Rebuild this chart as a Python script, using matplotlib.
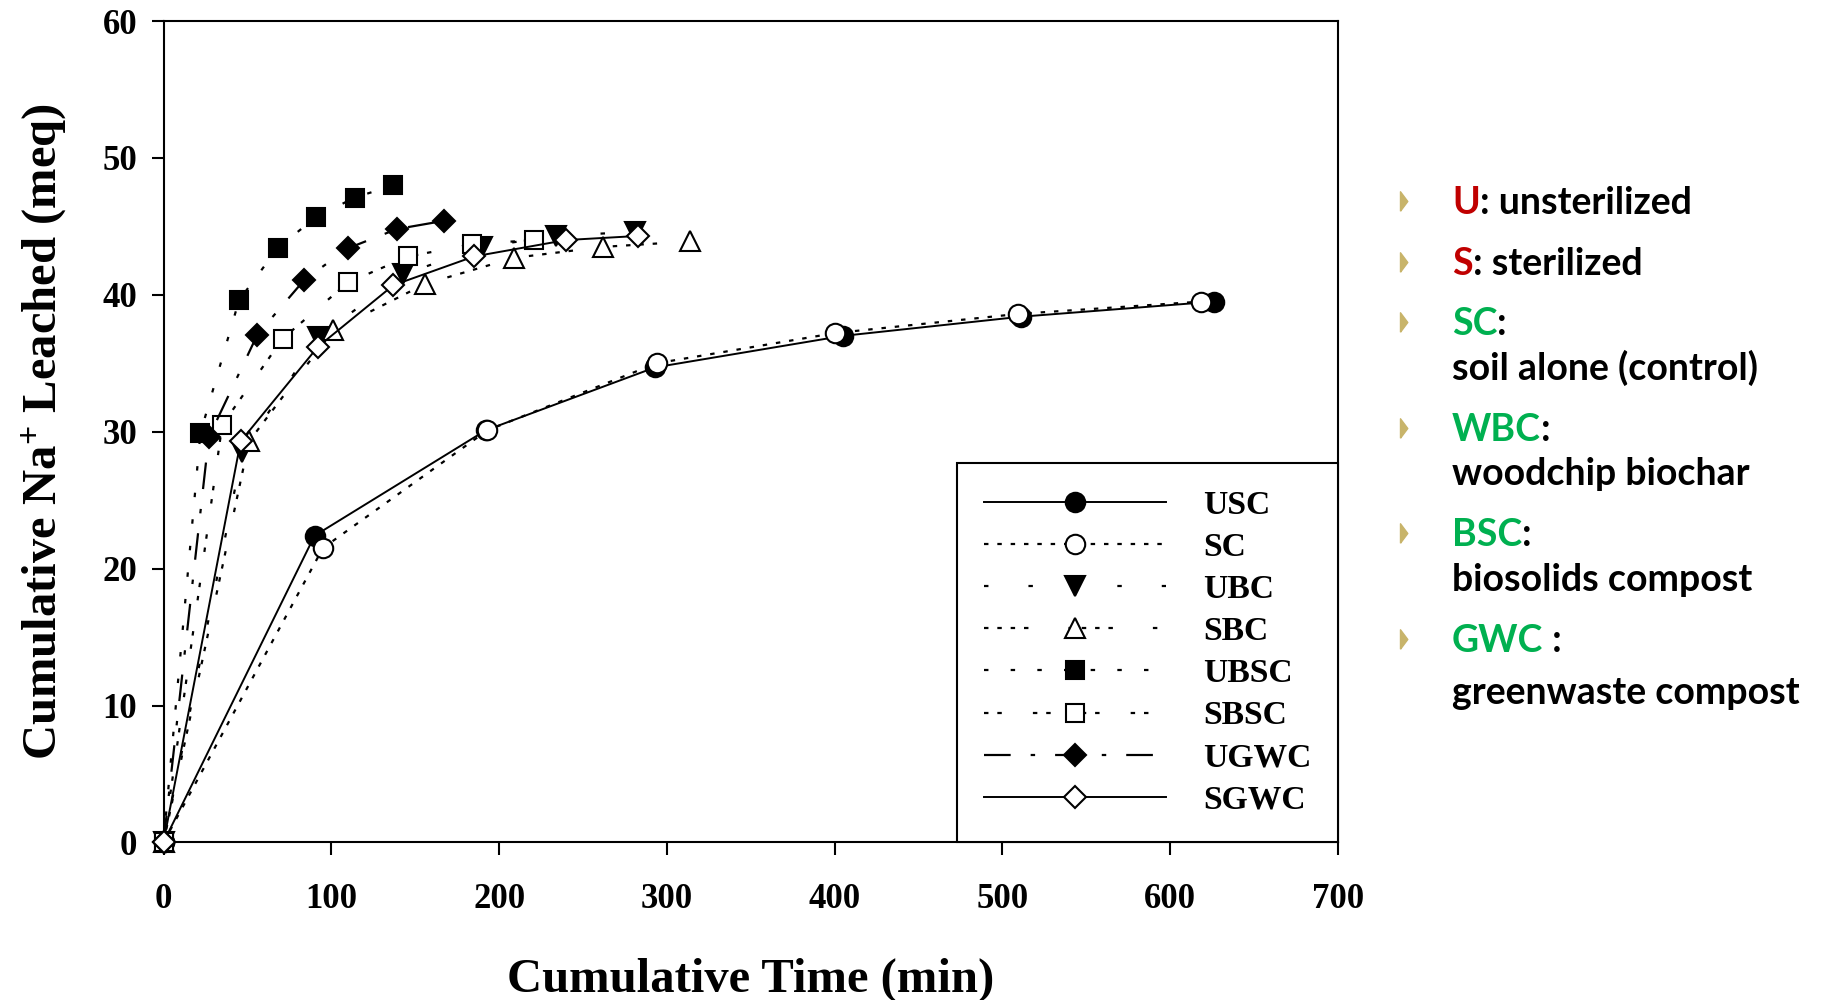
import matplotlib
matplotlib.use("Agg")
import matplotlib.pyplot as plt
from matplotlib.lines import Line2D

# Cumulative time (min) and cumulative Na+ leached (meq) for each column treatment
usc_t = [0, 90, 192, 293, 405, 511, 626]
usc_v = [0, 22.4, 30.1, 34.7, 37.0, 38.4, 39.5]
sc_t = [0, 95, 193, 294, 400, 509, 618]
sc_v = [0, 21.5, 30.1, 35.0, 37.2, 38.6, 39.5]
ubc_t = [0, 47, 92, 143, 190, 234, 281]
ubc_v = [0, 28.5, 36.9, 41.5, 43.5, 44.3, 44.6]
sbc_t = [0, 51, 101, 156, 209, 262, 314]
sbc_v = [0, 29.3, 37.4, 40.8, 42.7, 43.5, 43.9]
ubsc_t = [0, 22, 45, 68, 91, 114, 137]
ubsc_v = [0, 29.9, 39.6, 43.4, 45.7, 47.1, 48.0]
sbsc_t = [0, 35, 71, 110, 146, 184, 221]
sbsc_v = [0, 30.5, 36.8, 40.9, 42.8, 43.7, 44.0]
ugwc_t = [0, 27, 56, 84, 110, 139, 167]
ugwc_v = [0, 29.6, 37.1, 41.1, 43.4, 44.8, 45.4]
sgwc_t = [0, 46, 92, 137, 185, 240, 283]
sgwc_v = [0, 29.3, 36.2, 40.7, 42.8, 44.0, 44.3]

x_ticks = [0, 100, 200, 300, 400, 500, 600, 700]
y_ticks = [0, 10, 20, 30, 40, 50, 60]

series = [
    ("USC", usc_t, usc_v, "o", "black", "-"),
    ("SC", sc_t, sc_v, "o", "white", (0, (2, 4))),
    ("UBC", ubc_t, ubc_v, "v", "black", (0, (2, 18))),
    ("SBC", sbc_t, sbc_v, "^", "white", (0, (2, 4, 2, 4, 2, 4, 2, 18))),
    ("UBSC", ubsc_t, ubsc_v, "s", "black", (0, (2, 10))),
    ("SBSC", sbsc_t, sbsc_v, "s", "white", (0, (2, 4, 2, 14))),
    ("UGWC", ugwc_t, ugwc_v, "D", "black", (0, (12, 9, 2, 9))),
    ("SGWC", sgwc_t, sgwc_v, "D", "white", "-"),
]
marker_size = {"o": 14, "v": 14, "^": 14, "s": 13, "D": 11}

# right-hand glossary
RED = "#C00000"
GREEN = "#00B050"
glossary = [
    ("U", ": unsterilized", RED, None),
    ("S", ": sterilized", RED, None),
    ("SC", ":", GREEN, "soil alone (control)"),
    ("WBC", ":", GREEN, "woodchip biochar"),
    ("BSC", ":", GREEN, "biosolids compost"),
    ("GWC", " :", GREEN, "greenwaste compost"),
]

plt.rcParams["mathtext.fontset"] = "custom"
plt.rcParams["mathtext.rm"] = "Liberation Serif:bold"
plt.rcParams["mathtext.default"] = "rm"

SERIF = "Liberation Serif"

fig = plt.figure(figsize=(18.31, 10), dpi=100)
ax = fig.add_axes([0.0893, 0.1576, 0.6415, 0.8214])

for name, t, v, m, fc, ls in series:
    lw = 1.4 if ls == "-" else 1.6
    ax.plot(t, v, linestyle=ls, color="black", linewidth=lw, marker=m,
            markersize=marker_size[m], markerfacecolor=fc,
            markeredgecolor="black", markeredgewidth=1.5,
            label=name, clip_on=False, zorder=3)

ax.set_xlim(0, 700)
ax.set_ylim(0, 60)
ax.set_xticks(x_ticks)
ax.set_yticks(y_ticks)
for s in ax.spines.values():
    s.set_linewidth(1.5)
ax.tick_params(direction="out", length=9, width=1.5, top=False, right=False)
ax.tick_params(axis="x", pad=20)
ax.tick_params(axis="y", pad=10)
for lab in ax.get_xticklabels() + ax.get_yticklabels():
    lab.set_fontfamily(SERIF)
    lab.set_fontweight("bold")
    lab.set_fontsize(25)

ax.set_xlabel("Cumulative Time (min)", fontfamily=SERIF, fontweight="bold",
              fontsize=35, labelpad=30)
ax.set_ylabel("Cumulative Na$^{+}$ Leached (meq)", fontfamily=SERIF,
              fontweight="bold", fontsize=35, labelpad=25)

leg = ax.legend(loc="lower right", bbox_to_anchor=(1, 0), borderaxespad=0,
                prop={"family": SERIF, "weight": "bold", "size": 24.2},
                handlelength=5.4, handletextpad=1.1, labelspacing=0.33,
                borderpad=0.8, numpoints=1, fancybox=False, framealpha=1,
                edgecolor="black")
leg.get_frame().set_linewidth(1.5)
leg.set_zorder(5)

# glossary text on the right
W, H = 1831.0, 1000.0
head_base = [214, 275, 335, 441, 546, 652]
sub_base = [None, None, 380, 485, 591, 704]
text_x = 1452
bullet_x = 1400
gl_font = dict(family="Lato", weight="bold", size=27)
renderer = fig.canvas.get_renderer()
tri = [(0, -1), (0.75, 0), (0, 1), (0, -1)]
for (key, rest, col, sub), hb, sb in zip(glossary, head_base, sub_base):
    t1 = fig.text(text_x / W, 1 - hb / H, key, color=col, va="baseline",
                  ha="left", **gl_font)
    ext = t1.get_window_extent(renderer)
    fig.text(ext.x1 / W, 1 - hb / H, rest, color="black", va="baseline",
             ha="left", **gl_font)
    fig.add_artist(Line2D([bullet_x / W], [1 - (hb - 13) / H],
                          transform=fig.transFigure, marker=tri,
                          markersize=14, color="#C8B46A", linestyle="none"))
    if sub is not None:
        fig.text(text_x / W, 1 - sb / H, sub, color="black", va="baseline",
                 ha="left", **gl_font)

fig.savefig("out.png", dpi=100)
